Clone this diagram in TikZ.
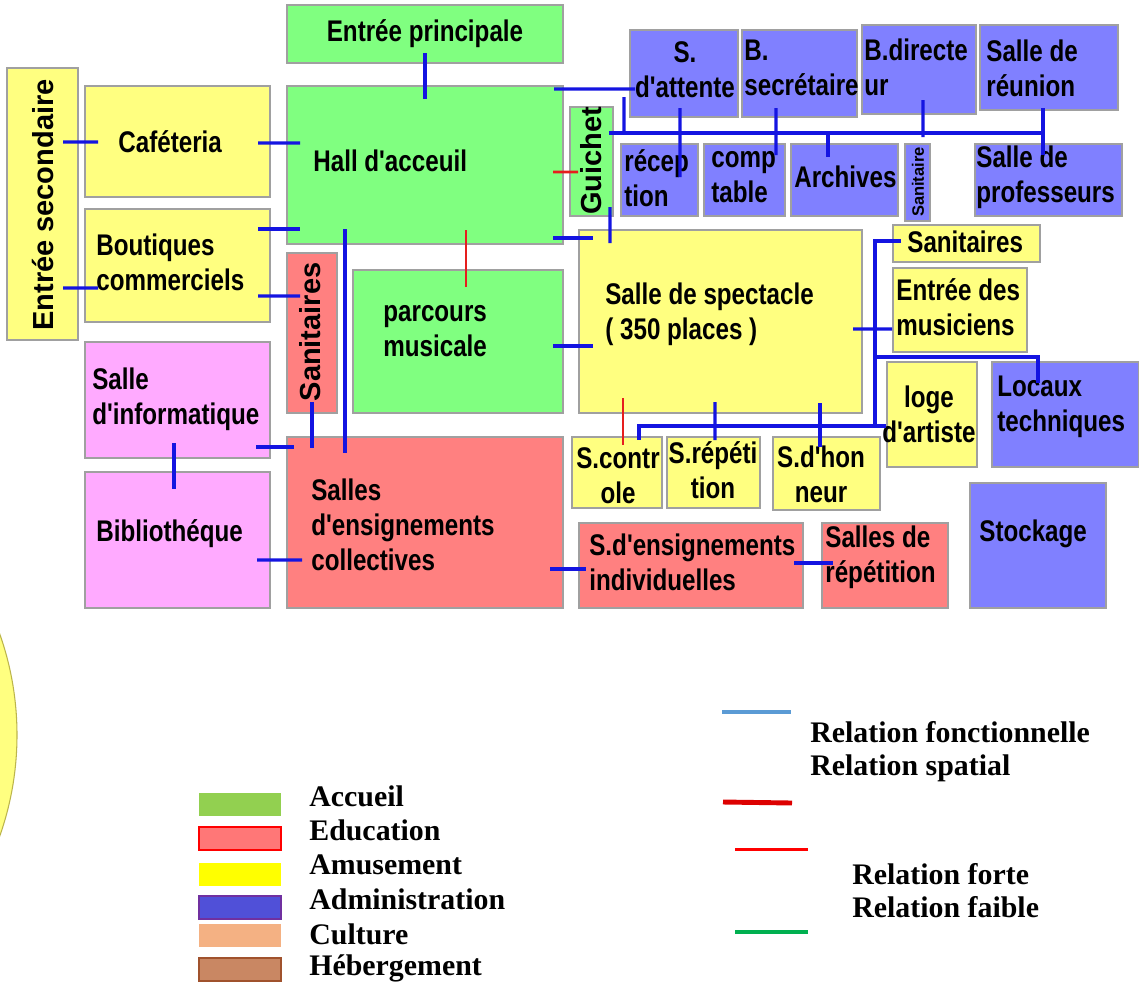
\documentclass[tikz,border=0pt]{standalone}
\usepackage{fontspec}
\usetikzlibrary{calc}

\newfontfamily\boxfont[FakeStretch=0.81]{Liberation Sans}
\newfontfamily\vertfont{Liberation Sans}
\newfontfamily\legfont{Liberation Serif}

\definecolor{roomG}{HTML}{80FF80}
\definecolor{roomY}{HTML}{FFFF80}
\definecolor{roomR}{HTML}{FF8080}
\definecolor{roomB}{HTML}{8080FF}
\definecolor{roomP}{HTML}{FFAAFF}
\definecolor{roomEdge}{HTML}{A0A0A0}
\definecolor{linkBlue}{RGB}{20,20,225}
\definecolor{linkRed}{RGB}{230,30,30}
\definecolor{legAcc}{HTML}{92D050}
\definecolor{legEdu}{HTML}{FF7777}
\definecolor{legAmu}{HTML}{FFFF00}
\definecolor{legAdm}{HTML}{5050D8}
\definecolor{legAdmEdge}{HTML}{7030A0}
\definecolor{legCul}{HTML}{F4B183}
\definecolor{legHeb}{HTML}{C98763}
\definecolor{legHebEdge}{HTML}{A0522D}
\definecolor{legFonc}{HTML}{5B9BD5}
\definecolor{legSpat}{HTML}{DD0000}
\definecolor{legFaible}{HTML}{00B050}

\begin{document}
\begin{tikzpicture}[
    x=0.02cm, y=-0.02cm,     % 1 unit = 1 px of the plan
    room/.style 2 args={draw=roomEdge, line width=0.6pt, anchor=north west,
        inner sep=0pt, outer sep=0pt,
        minimum width=#1*0.02cm, minimum height=#2*0.02cm},
    txt/.style={font=\boxfont\bfseries\fontsize{17}{19.8}\selectfont,
        inner sep=0pt, align=left},
    vtxt/.style={font=\vertfont\bfseries\fontsize{16.5}{18}\selectfont,
        inner sep=0pt, rotate=90},
    func/.style={draw=linkBlue, line width=1.8pt},
    forte/.style={draw=linkRed, line width=1.5pt},
    swatch/.style={anchor=north west, inner sep=0pt, outer sep=0pt,
        minimum width=82*0.02cm, minimum height=23*0.02cm, line width=1.2pt},
    legtxt/.style={font=\legfont\bfseries\fontsize{17}{18.8}\selectfont,
        inner sep=0pt, anchor=west, align=left}
]

    \fill[white] (0,0) rectangle (1139,985);
    \useasboundingbox (0,0) rectangle (1139,985);

    % --- 0. yellow disc cut by the left edge ---
    \begin{scope}
        \clip (0,0) rectangle (1139,985);
        \filldraw[fill=roomY, draw=olive!60, line width=0.6pt] (-286,735) circle (303);
    \end{scope}

    % --- 1. rooms (Nodes) ---
    \node[room={276}{58}, fill=roomG]  (entp)   at (287,5)   {};
    \node[room={276}{158}, fill=roomG] (hall)   at (287,86)  {};
    \node[room={185}{111}, fill=roomY] (caf)    at (85,86)   {};
    \node[room={185}{113}, fill=roomY] (bout)   at (85,209)  {};
    \node[room={71}{272}, fill=roomY]  (entsec) at (7,68)    {};
    \node[room={50}{160}, fill=roomR]  (sanr)   at (287,253) {};
    \node[room={210}{143}, fill=roomG] (parc)   at (353,270) {};
    \node[room={185}{116}, fill=roomP] (info)   at (85,342)  {};
    \node[room={185}{136}, fill=roomP] (bib)    at (85,472)  {};
    \node[room={276}{171}, fill=roomR] (coll)   at (287,437) {};
    \node[room={43}{109}, fill=roomG]  (gui)    at (570,107) {};

    % administration
    \node[room={108}{87}, fill=roomB]  (att)    at (630,30)  {};
    \node[room={115}{87}, fill=roomB]  (secr)   at (742,30)  {};
    \node[room={114}{89}, fill=roomB]  (dir)    at (862,25)  {};
    \node[room={138}{85}, fill=roomB]  (reun)   at (980,25)  {};
    \node[room={77}{72}, fill=roomB]   (recep)  at (621,144) {};
    \node[room={81}{72}, fill=roomB]   (compt)  at (704,144) {};
    \node[room={107}{72}, fill=roomB]  (arch)   at (791,144) {};
    \node[room={25}{77}, fill=roomB]   (sani)   at (905,144) {};
    \node[room={147}{72}, fill=roomB]  (prof)   at (975,144) {};

    % spectacle side
    \node[room={283}{183}, fill=roomY] (spec)   at (579,230) {};
    \node[room={147}{37}, fill=roomY]  (sany)   at (893,225) {};
    \node[room={134}{84}, fill=roomY]  (musi)   at (893,268) {};
    \node[room={90}{105}, fill=roomY]  (loge)   at (887,362) {};
    \node[room={147}{105}, fill=roomB] (loc)    at (992,362) {};
    \node[room={90}{71}, fill=roomY]   (ctrl)   at (572,437) {};
    \node[room={93}{71}, fill=roomY]   (rep)    at (667,437) {};
    \node[room={107}{73}, fill=roomY]  (hon)    at (773,437) {};
    \node[room={224}{85}, fill=roomR]  (indiv)  at (579,523) {};
    \node[room={126}{85}, fill=roomR]  (srep)   at (822,523) {};
    \node[room={136}{125}, fill=roomB] (stock)  at (970,483) {};

    % --- 2. room names ---
    \node[txt] (entp-t) at (425,34) {Entrée principale};
    \node[txt, anchor=west] (hall-t) at (313,161) {Hall d'acceuil};
    \node[txt, anchor=west] (caf-t) at (118,142) {Caféteria};
    \node[txt, anchor=west] (bout-t) at (96,262) {Boutiques\\commerciels};
    \node[vtxt] (entsec-t) at (43,205) {Entrée secondaire};
    \node[vtxt] (sanr-t) at (310,332) {Sanitaires};
    \node[txt, anchor=west] (parc-t) at (383,331) {parcours\\musicale};
    \node[txt, anchor=west] (info-t) at (92,399) {Salle\\d'informatique};
    \node[txt, anchor=west] (bib-t) at (96,534) {Bibliothéque};
    \node[txt, anchor=west] (coll-t) at (311,525) {Salles\\d'ensignements\\collectives};
    \node[vtxt] (gui-t) at (591,161) {Guichet};
    \node[txt, align=center] (att-t) at (685,70) {S.\\d'attente};
    \node[txt, anchor=west] (secr-t) at (744,68) {B.\\secrétaire};
    \node[txt, anchor=west] (dir-t) at (864,67) {B.directe\\ur};
    \node[txt, anchor=west] (reun-t) at (986,68) {Salle de\\réunion};
    \node[txt, anchor=west] (recep-t) at (624,178) {récep\\tion};
    \node[txt, anchor=west] (compt-t) at (711,177) {comp\\table};
    \node[txt, anchor=west] (arch-t) at (794,177) {Archives};
    \node[vtxt, font=\vertfont\bfseries\fontsize{9.4}{10}\selectfont] (sani-t) at (918,182) {Sanitaire};
    \node[txt, anchor=west] (prof-t) at (976,177) {Salle de\\professeurs};
    \node[txt, anchor=west] (spec-t) at (605,314) {Salle de spectacle\\( 350 places )};
    \node[txt, anchor=west] (sany-t) at (907,242) {Sanitaires};
    \node[txt, anchor=west] (musi-t) at (896,307) {Entrée des\\musiciens};
    \node[txt, align=center] (loge-t) at (929,414) {loge\\d'artiste};
    \node[txt, anchor=west] (loc-t) at (997,407) {Locaux\\techniques};
    \node[txt, align=center] (ctrl-t) at (618,476) {S.contr\\ole};
    \node[txt, align=center] (rep-t) at (713,470) {S.répéti\\tion};
    \node[txt, align=center] (hon-t) at (821,474) {S.d'hon\\neur};
    \node[txt, anchor=west] (indiv-t) at (589,562) {S.d'ensignements\\individuelles};
    \node[txt, anchor=west] (srep-t) at (825,557) {Salles de\\répétition};
    \node[txt, anchor=west] (stock-t) at (979,534) {Stockage};

    % --- 3. functional links (blue) ---
    % accueil
    \draw[func] ($(entp.south)+(0,-10)$) -- ($(hall.north)+(0,13)$);
    \draw[func] ($(entsec.east)+(-15,-62)$) -- ($(caf.west)+(13,0.5)$);
    \draw[func] ($(caf.east)+(-12,1.5)$) -- ($(hall.west)+(13,-22)$);
    \draw[func] ($(bout.north east)+(-12,20)$) -- ($(hall.south west)+(13,-15)$);
    \draw[func] ($(entsec.east)+(-15,84)$) -- ($(bout.west)+(13,22.5)$);
    \draw[func] ($(bout.east)+(-12,30.5)$) -- ($(sanr.west)+(13,-37)$);
    \draw[func] ($(hall.south west)+(58,-15)$) -- ($(coll.north west)+(58,16)$);
    \draw[func] ($(hall.north east)+(-9,3)$) -- ($(att.south west)+(5,-28)$);
    \draw[func] ($(hall.south east)+(-10,-6)$) -- ($(spec.north west)+(14,8)$);
    \draw[func] ($(gui.south east)+(-3,-9)$) -- ($(spec.north west)+(31,13)$);

    % administration
    \draw[func] ($(gui.east)+(-4,-28.5)$) -- ($(prof.north)+(-5.5,-11)$);
    \draw[func] ($(att.south west)+(-6,-20)$) -- ($(gui.north east)+(11,26)$);
    \draw[func] ($(att.south)+(-4,-9)$) -- ($(recep.north)+(20.5,33)$);
    \draw[func] ($(secr.south)+(-23.5,-9)$) -- ($(compt.north)+(31.5,11)$);
    \draw[func] ($(arch.north)+(-16.5,-11)$) -- ($(arch.north)+(-16.5,13)$);
    \draw[func] ($(dir.south)+(4,-14)$) -- ($(sani.north)+(5.5,-7)$);
    \draw[func] ($(reun.south)+(-6,-2)$) -- ($(prof.north)+(-5.5,11)$);

    % spectacle
    \draw[func] ($(parc.east)+(-10,4.5)$) -- ($(spec.west)+(14,24.5)$);
    \draw[func] ($(spec.east)+(-9,7.5)$) -- ($(musi.west)+(-1,19)$);
    \draw[func] ($(sany.west)+(8,-2.5)$) -| ($(spec.south east)+(13,12)$);
    \draw[func] ($(spec.east)+(13,35.5)$) -| ($(loc.north west)+(46,21)$);
    \draw[func] ($(loge.west)+(-1,11.5)$) -| ($(ctrl.north west)+(67,3)$);
    \draw[func] ($(spec.south west)+(136,-11)$) -- ($(rep.north)+(1.5,3)$);
    \draw[func] ($(spec.south west)+(241,-10)$) -- ($(hon.north)+(-6.5,10)$);

    % education / culture
    \draw[func] ($(coll.east)+(-13,46.5)$) -- ($(indiv.west)+(7,3.5)$);
    \draw[func] ($(indiv.east)+(-9,-2.5)$) -- ($(srep.west)+(11,-2.5)$);
    \draw[func] ($(info.south)+(-3.5,-15)$) -- ($(bib.north)+(-3.5,17)$);
    \draw[func] ($(info.south east)+(-14,-11)$) -- ($(coll.north west)+(7,10)$);
    \draw[func] ($(sanr.south)+(0,-11)$) -- ($(coll.north west)+(25,11)$);
    \draw[func] ($(bib.east)+(-13,20)$) -- ($(coll.west)+(15,37.5)$);

    % --- 4. strong links (red) ---
    \draw[forte] ($(hall.east)+(-10,7)$) -- ($(gui.west)+(8,10.5)$);
    \draw[forte] ($(hall.south west)+(179,-14)$) -- ($(parc.north west)+(113,17)$);
    \draw[forte] ($(spec.south west)+(44,-15)$) -- ($(ctrl.north)+(6,8)$);

    % --- 5. legend: functions ---
    \node[swatch, fill=legAcc] (sw-acc) at (199,793) {};
    \node[swatch, fill=legEdu, draw=red] (sw-edu) at (199,827) {};
    \node[swatch, fill=legAmu] (sw-amu) at (199,863) {};
    \node[swatch, fill=legAdm, draw=legAdmEdge] (sw-adm) at (199,896) {};
    \node[swatch, fill=legCul] (sw-cul) at (199,924) {};
    \node[swatch, fill=legHeb, draw=legHebEdge] (sw-heb) at (199,958) {};

    \node[legtxt] (l-acc) at (309,796) {Accueil};
    \node[legtxt] (l-edu) at (309,830) {Education};
    \node[legtxt] (l-amu) at (309,865) {Amusement};
    \node[legtxt] (l-adm) at (309,899) {Administration};
    \node[legtxt] (l-cul) at (309,934) {Culture};
    \node[legtxt] (l-heb) at (309,968) {Hébergement};

    % --- 6. legend: relations ---
    \coordinate (fonc-a) at (722,712);   \coordinate (fonc-b) at (791,712);
    \coordinate (spat-a) at (723,802);   \coordinate (spat-b) at (792,803);
    \coordinate (fort-a) at (735,849);   \coordinate (fort-b) at (808,849);
    \coordinate (faib-a) at (735,932);   \coordinate (faib-b) at (808,932);
    \draw[legFonc, line width=2.3pt] (fonc-a) -- (fonc-b);
    \draw[legSpat, line width=2.8pt] (spat-a) -- (spat-b);
    \draw[red, line width=1.7pt] (fort-a) -- (fort-b);
    \draw[legFaible, line width=2pt] (faib-a) -- (faib-b);

    \node[legtxt] (l-rel1) at (810,752) {Relation fonctionnelle\\Relation spatial};
    \node[legtxt] (l-rel2) at (852,891) {Relation forte\\Relation faible};

\end{tikzpicture}
\end{document}
